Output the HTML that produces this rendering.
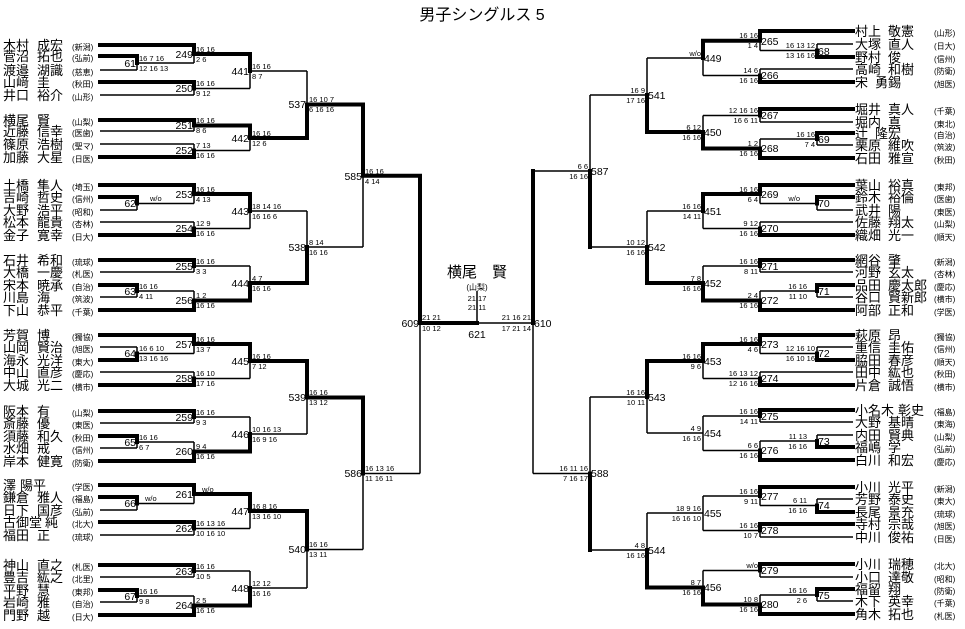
<!DOCTYPE html>
<html><head><meta charset="utf-8"><style>
html,body{margin:0;padding:0;background:#fff}
svg{display:block}
text{font-family:"Liberation Sans","Noto Sans CJK JP",sans-serif;fill:#000}
.nm{font-size:13px}
.sc{font-size:8px}
.s{font-size:7.5px}
.r{font-size:7.5px;text-anchor:end}
.l{font-size:10.5px;text-anchor:end}
.lr{font-size:10.5px}
</style></head><body>
<svg width="965" height="629" viewBox="0 0 965 629" xmlns="http://www.w3.org/2000/svg">
<text x="482" y="20" font-size="16" text-anchor="middle">男子シングルス 5</text>

<path fill="none" stroke="#000" stroke-width="1.5" d="
M100 45H194M100 56H137M100 70H137M100 82H194M100 95H194
M100 120H194M100 131H194M100 144H194M100 157H194
M100 185H194M100 197H137M100 210H137M100 222H194M100 235H194
M100 260H194M100 272H194M100 285H137M100 297H137M100 310H194
M100 335H194M100 347H137M100 360H137M100 372H194M100 385H194
M100 411H194M100 423H194M100 436H137M100 448H137M100 461H194
M100 485H194M100 497H137M100 510H137M100 522H194M100 535H194
M100 565H194M100 577H194M100 590H137M100 602H137M100 615H194
M137 56V70M137 63H194M137 197V210M137 203.5H194M137 285V297M137 291H194M137 347V360M137 353.5H194M137 436V448M137 442H194M137 497V510M137 503.5H194M137 590V602M137 596H194
M194 45V63M194 82V95M194 120V131M194 144V157M194 185V203.5M194 222V235M194 260V272M194 291V310M194 335V353.5M194 372V385M194 411V423M194 442V461M194 485V503.5M194 522V535M194 565V577M194 596V615
M194 54H250M194 88.5H250M194 125.5H250M194 150.5H250M194 194H250M194 228.5H250M194 266H250M194 300.5H250M194 344H250M194 378.5H250M194 417H250M194 451.5H250M194 494H250M194 528.5H250M194 571H250M194 605.5H250
M250 54V88.5M250 125.5V150.5M250 194V228.5M250 266V300.5M250 344V378.5M250 417V451.5M250 494V528.5M250 571V605.5
M250 71H307M250 138H307M250 211H307M250 283H307M250 361H307M250 434H307M250 511H307M250 588H307
M307 71V138M307 211V283M307 361V434M307 511V588
M307 104.5H363M307 247H363M307 397.5H363M307 549.5H363
M363 104.5V247M363 397.5V549.5M363 175.75H420M363 473.5H420M420 175.75V473.5M420 323H533M477 291V323
M853 31H760M853 44H817M853 57H817M853 69H760M853 82H760
M853 109H760M853 122H760M853 133H817M853 145H817M853 158H760
M853 185H760M853 197H817M853 210H817M853 222H760M853 235H760
M853 260H760M853 272H760M853 285H817M853 297H817M853 310H760
M853 335H760M853 347H817M853 360H817M853 372H760M853 385H760
M853 410H760M853 422H760M853 435H817M853 447H817M853 460H760
M853 487H760M853 499H817M853 512H817M853 524H760M853 537H760
M853 564H760M853 577H760M853 589H817M853 601H817M853 614H760
M817 44V57M817 50.5H760M817 133V145M817 139H760M817 197V210M817 203.5H760M817 285V297M817 291H760M817 347V360M817 353.5H760M817 435V447M817 441H760M817 499V512M817 505.5H760M817 589V601M817 595H760
M760 31V50.5M760 69V82M760 109V122M760 139V158M760 185V203.5M760 222V235M760 260V272M760 291V310M760 335V353.5M760 372V385M760 410V422M760 441V460M760 487V505.5M760 524V537M760 564V577M760 595V614
M760 40.75H703M760 75.5H703M760 115.5H703M760 148.5H703M760 194H703M760 228.5H703M760 266H703M760 300.5H703M760 344H703M760 378.5H703M760 416H703M760 450.5H703M760 496H703M760 530.5H703M760 570.5H703M760 604.5H703
M703 40.75V75.5M703 115.5V148.5M703 194V228.5M703 266V300.5M703 344V378.5M703 416V450.5M703 496V530.5M703 570.5V604.5
M703 58H647M703 132H647M703 211H647M703 283H647M703 361H647M703 433H647M703 513H647M703 587.5H647
M647 58V132M647 211V283M647 361V433M647 513V587.5
M647 95H590M647 247H590M647 397H590M647 550H590
M590 95V247M590 397V550M590 171H533M590 473.5H533M533 171V473.5"/>

<path fill="none" stroke="#000" stroke-width="4" stroke-linecap="square" d="
M100 45H194M100 56H137M137 56V63M194 45V54M100 82H194M194 82V88.5M194 54H250M250 54V71
M100 120H194M194 120V125.5M100 157H194M194 150.5V157M194 125.5H250M250 125.5V138M250 138H307M307 104.5V138M307 104.5H363M363 104.5V175.75M363 175.75H420M420 175.75V323M420 323H477
M100 185H194M100 197H137M137 197V203.5M194 185V194M100 235H194M194 228.5V235M194 194H250M250 194V211
M100 260H194M194 260V266M100 285H137M137 285V291M100 310H194M194 300.5V310M194 300.5H250M250 283V300.5M250 283H307M307 247V283
M100 335H194M100 360H137M137 353.5V360M194 335V344M100 385H194M194 378.5V385M194 344H250M250 344V361M250 361H307M307 361V397.5M307 397.5H363M363 397.5V473.5
M100 411H194M194 411V417M100 436H137M137 436V442M100 461H194M194 451.5V461M194 451.5H250M250 434V451.5
M100 485H194M100 497H137M137 497V503.5M194 485V494M100 522H194M194 522V528.5M194 494H250M250 494V511M250 511H307M307 511V549.5
M100 565H194M194 565V571M100 590H137M137 590V596M100 615H194M194 605.5V615M194 605.5H250M250 588V605.5
M853 31H760M853 57H817M817 50.5V57M760 31V40.75M853 82H760M760 75.5V82M760 40.75H703M703 40.75V58
M853 109H760M760 109V115.5M853 133H817M817 133V139M853 158H760M760 148.5V158M760 148.5H703M703 132V148.5M703 132H647M647 95V132
M853 185H760M853 197H817M817 197V203.5M760 185V194M853 235H760M760 228.5V235M760 194H703M703 194V211
M853 260H760M760 260V266M853 285H817M817 285V291M853 310H760M760 300.5V310M760 300.5H703M703 283V300.5M703 283H647M647 247V283M590 171V247M533 171V323
M853 335H760M853 360H817M817 353.5V360M760 335V344M853 385H760M760 378.5V385M760 344H703M703 344V361M703 361H647M647 361V397
M853 410H760M760 410V416M853 447H817M817 441V447M853 460H760M760 450.5V460
M853 487H760M853 512H817M817 505.5V512M760 487V496M853 524H760M760 524V530.5
M853 564H760M760 564V570.5M853 589H817M817 589V595M853 614H760M760 604.5V614M760 604.5H703M703 587.5V604.5M703 587.5H647M647 550V587.5M590 473.5V550"/>

<!-- left names -->
<g class="nm">
<text y="50"><tspan x="3">木村</tspan><tspan x="37">成宏</tspan><tspan x="72" class="sc">(新潟)</tspan></text>
<text y="61"><tspan x="3">菅沼</tspan><tspan x="37">拓也</tspan><tspan x="72" class="sc">(弘前)</tspan></text>
<text y="75"><tspan x="3">渡邉</tspan><tspan x="37">湖識</tspan><tspan x="72" class="sc">(慈恵)</tspan></text>
<text y="87"><tspan x="3">山﨑</tspan><tspan x="37">圭</tspan><tspan x="72" class="sc">(秋田)</tspan></text>
<text y="100"><tspan x="3">井口</tspan><tspan x="37">裕介</tspan><tspan x="72" class="sc">(山形)</tspan></text>
<text y="125"><tspan x="3">横尾</tspan><tspan x="37">賢</tspan><tspan x="72" class="sc">(山梨)</tspan></text>
<text y="136"><tspan x="3">近藤</tspan><tspan x="37">信幸</tspan><tspan x="72" class="sc">(医歯)</tspan></text>
<text y="149"><tspan x="3">篠原</tspan><tspan x="37">浩樹</tspan><tspan x="72" class="sc">(聖マ)</tspan></text>
<text y="162"><tspan x="3">加藤</tspan><tspan x="37">大星</tspan><tspan x="72" class="sc">(日医)</tspan></text>
<text y="190"><tspan x="3">土橋</tspan><tspan x="37">隼人</tspan><tspan x="72" class="sc">(埼玉)</tspan></text>
<text y="202"><tspan x="3">吉崎</tspan><tspan x="37">哲史</tspan><tspan x="72" class="sc">(信州)</tspan></text>
<text y="215"><tspan x="3">大野</tspan><tspan x="37">浩平</tspan><tspan x="72" class="sc">(昭和)</tspan></text>
<text y="227"><tspan x="3">松本</tspan><tspan x="37">龍貴</tspan><tspan x="72" class="sc">(杏林)</tspan></text>
<text y="240"><tspan x="3">金子</tspan><tspan x="37">寛幸</tspan><tspan x="72" class="sc">(日大)</tspan></text>
<text y="265"><tspan x="3">石井</tspan><tspan x="37">希和</tspan><tspan x="72" class="sc">(琉球)</tspan></text>
<text y="277"><tspan x="3">大橋</tspan><tspan x="37">一慶</tspan><tspan x="72" class="sc">(札医)</tspan></text>
<text y="290"><tspan x="3">宋本</tspan><tspan x="37">暁承</tspan><tspan x="72" class="sc">(自治)</tspan></text>
<text y="302"><tspan x="3">川島</tspan><tspan x="37">海</tspan><tspan x="72" class="sc">(筑波)</tspan></text>
<text y="315"><tspan x="3">下山</tspan><tspan x="37">恭平</tspan><tspan x="72" class="sc">(千葉)</tspan></text>
<text y="340"><tspan x="3">芳賀</tspan><tspan x="37">博</tspan><tspan x="72" class="sc">(獨協)</tspan></text>
<text y="352"><tspan x="3">山岡</tspan><tspan x="37">賢治</tspan><tspan x="72" class="sc">(旭医)</tspan></text>
<text y="365"><tspan x="3">海永</tspan><tspan x="37">光洋</tspan><tspan x="72" class="sc">(東大)</tspan></text>
<text y="377"><tspan x="3">中山</tspan><tspan x="37">直彦</tspan><tspan x="72" class="sc">(慶応)</tspan></text>
<text y="390"><tspan x="3">大城</tspan><tspan x="37">光二</tspan><tspan x="72" class="sc">(横市)</tspan></text>
<text y="416"><tspan x="3">阪本</tspan><tspan x="37">有</tspan><tspan x="72" class="sc">(山梨)</tspan></text>
<text y="428"><tspan x="3">斎藤</tspan><tspan x="37">優</tspan><tspan x="72" class="sc">(東医)</tspan></text>
<text y="441"><tspan x="3">須藤</tspan><tspan x="37">和久</tspan><tspan x="72" class="sc">(秋田)</tspan></text>
<text y="453"><tspan x="3">水畑</tspan><tspan x="37">戒</tspan><tspan x="72" class="sc">(信州)</tspan></text>
<text y="466"><tspan x="3">岸本</tspan><tspan x="37">健寛</tspan><tspan x="72" class="sc">(防衛)</tspan></text>
<text y="490"><tspan x="3">澤</tspan><tspan x="20">陽平</tspan><tspan x="72" class="sc">(学医)</tspan></text>
<text y="502"><tspan x="3">鎌倉</tspan><tspan x="37">雅人</tspan><tspan x="72" class="sc">(福島)</tspan></text>
<text y="515"><tspan x="3">日下</tspan><tspan x="37">国彦</tspan><tspan x="72" class="sc">(弘前)</tspan></text>
<text y="527"><tspan x="3">古御堂</tspan><tspan x="45">純</tspan><tspan x="72" class="sc">(北大)</tspan></text>
<text y="540"><tspan x="3">福田</tspan><tspan x="37">正</tspan><tspan x="72" class="sc">(琉球)</tspan></text>
<text y="570"><tspan x="3">神山</tspan><tspan x="37">直之</tspan><tspan x="72" class="sc">(札医)</tspan></text>
<text y="582"><tspan x="3">豊吉</tspan><tspan x="37">紘之</tspan><tspan x="72" class="sc">(北里)</tspan></text>
<text y="595"><tspan x="3">平野</tspan><tspan x="37">慧</tspan><tspan x="72" class="sc">(東邦)</tspan></text>
<text y="607"><tspan x="3">岩崎</tspan><tspan x="37">雅</tspan><tspan x="72" class="sc">(自治)</tspan></text>
<text y="620"><tspan x="3">門野</tspan><tspan x="37">越</tspan><tspan x="72" class="sc">(日大)</tspan></text>
</g>

<!-- right names -->
<g class="nm">
<text y="36"><tspan x="855">村上</tspan><tspan x="888">敬憲</tspan><tspan x="934" class="sc">(山形)</tspan></text>
<text y="49"><tspan x="855">大塚</tspan><tspan x="888">直人</tspan><tspan x="934" class="sc">(日大)</tspan></text>
<text y="62"><tspan x="855">野村</tspan><tspan x="888">俊</tspan><tspan x="934" class="sc">(信州)</tspan></text>
<text y="74"><tspan x="855">高崎</tspan><tspan x="888">和樹</tspan><tspan x="934" class="sc">(防衛)</tspan></text>
<text y="87"><tspan x="855">宋</tspan><tspan x="875">勇錫</tspan><tspan x="934" class="sc">(旭医)</tspan></text>
<text y="114"><tspan x="855">堀井</tspan><tspan x="888">真人</tspan><tspan x="934" class="sc">(千葉)</tspan></text>
<text y="127"><tspan x="855">堀内</tspan><tspan x="888">真</tspan><tspan x="934" class="sc">(東北)</tspan></text>
<text y="138"><tspan x="855">辻</tspan><tspan x="875">隆宏</tspan><tspan x="934" class="sc">(自治)</tspan></text>
<text y="150"><tspan x="855">栗原</tspan><tspan x="888">維吹</tspan><tspan x="934" class="sc">(筑波)</tspan></text>
<text y="163"><tspan x="855">石田</tspan><tspan x="888">雅宣</tspan><tspan x="934" class="sc">(秋田)</tspan></text>
<text y="190"><tspan x="855">葉山</tspan><tspan x="888">裕真</tspan><tspan x="934" class="sc">(東邦)</tspan></text>
<text y="202"><tspan x="855">鈴木</tspan><tspan x="888">裕倫</tspan><tspan x="934" class="sc">(医歯)</tspan></text>
<text y="215"><tspan x="855">武井</tspan><tspan x="888">陽</tspan><tspan x="934" class="sc">(東医)</tspan></text>
<text y="227"><tspan x="855">佐藤</tspan><tspan x="888">翔太</tspan><tspan x="934" class="sc">(山梨)</tspan></text>
<text y="240"><tspan x="855">織畑</tspan><tspan x="888">光一</tspan><tspan x="934" class="sc">(順天)</tspan></text>
<text y="265"><tspan x="855">網谷</tspan><tspan x="888">肇</tspan><tspan x="934" class="sc">(新潟)</tspan></text>
<text y="277"><tspan x="855">河野</tspan><tspan x="888">玄太</tspan><tspan x="934" class="sc">(杏林)</tspan></text>
<text y="290"><tspan x="855">品田</tspan><tspan x="888">慶太郎</tspan><tspan x="934" class="sc">(慶応)</tspan></text>
<text y="302"><tspan x="855">谷口</tspan><tspan x="888">賢新郎</tspan><tspan x="934" class="sc">(横市)</tspan></text>
<text y="315"><tspan x="855">阿部</tspan><tspan x="888">正和</tspan><tspan x="934" class="sc">(学医)</tspan></text>
<text y="340"><tspan x="855">萩原</tspan><tspan x="888">昂</tspan><tspan x="934" class="sc">(獨協)</tspan></text>
<text y="352"><tspan x="855">重信</tspan><tspan x="888">圭佑</tspan><tspan x="934" class="sc">(信州)</tspan></text>
<text y="365"><tspan x="855">脇田</tspan><tspan x="888">春彦</tspan><tspan x="934" class="sc">(順天)</tspan></text>
<text y="377"><tspan x="855">田中</tspan><tspan x="888">紘也</tspan><tspan x="934" class="sc">(秋田)</tspan></text>
<text y="390"><tspan x="855">片倉</tspan><tspan x="888">誠悟</tspan><tspan x="934" class="sc">(横市)</tspan></text>
<text y="415"><tspan x="855">小名木</tspan><tspan x="898">彰史</tspan><tspan x="934" class="sc">(福島)</tspan></text>
<text y="427"><tspan x="855">大野</tspan><tspan x="888">基晴</tspan><tspan x="934" class="sc">(東海)</tspan></text>
<text y="440"><tspan x="855">内田</tspan><tspan x="888">賢典</tspan><tspan x="934" class="sc">(山梨)</tspan></text>
<text y="452"><tspan x="855">福嶋</tspan><tspan x="888">学</tspan><tspan x="934" class="sc">(弘前)</tspan></text>
<text y="465"><tspan x="855">白川</tspan><tspan x="888">和宏</tspan><tspan x="934" class="sc">(慶応)</tspan></text>
<text y="492"><tspan x="855">小川</tspan><tspan x="888">光平</tspan><tspan x="934" class="sc">(新潟)</tspan></text>
<text y="504"><tspan x="855">芳野</tspan><tspan x="888">泰史</tspan><tspan x="934" class="sc">(東大)</tspan></text>
<text y="517"><tspan x="855">長尾</tspan><tspan x="888">景充</tspan><tspan x="934" class="sc">(琉球)</tspan></text>
<text y="529"><tspan x="855">寺村</tspan><tspan x="888">宗哉</tspan><tspan x="934" class="sc">(旭医)</tspan></text>
<text y="542"><tspan x="855">中川</tspan><tspan x="888">俊祐</tspan><tspan x="934" class="sc">(日医)</tspan></text>
<text y="569"><tspan x="855">小川</tspan><tspan x="888">瑞穂</tspan><tspan x="934" class="sc">(北大)</tspan></text>
<text y="582"><tspan x="855">小口</tspan><tspan x="888">達敬</tspan><tspan x="934" class="sc">(昭和)</tspan></text>
<text y="594"><tspan x="855">福留</tspan><tspan x="888">翔</tspan><tspan x="934" class="sc">(防衛)</tspan></text>
<text y="606"><tspan x="855">木下</tspan><tspan x="888">英幸</tspan><tspan x="934" class="sc">(千葉)</tspan></text>
<text y="619"><tspan x="855">角木</tspan><tspan x="888">拓也</tspan><tspan x="934" class="sc">(札医)</tspan></text>
</g>

<!-- champion -->
<text x="477" y="277" font-size="15" text-anchor="middle">横尾　賢</text>
<text x="477" y="290" font-size="8" text-anchor="middle">(山梨)</text>
<text x="477" y="301" font-size="7.5" text-anchor="middle">21 17</text>
<text x="477" y="310" font-size="7.5" text-anchor="middle">21 11</text>
<text x="477" y="338" font-size="10.5" text-anchor="middle">621</text>

<!-- left match labels -->
<g class="l">
<text x="136" y="67">61</text><text x="193" y="58">249</text><text x="193" y="92">250</text><text x="249" y="75">441</text>
<text x="193" y="129">251</text><text x="193" y="154">252</text><text x="249" y="142">442</text><text x="306" y="108">537</text>
<text x="136" y="207">62</text><text x="193" y="198">253</text><text x="193" y="232">254</text><text x="249" y="215">443</text>
<text x="193" y="270">255</text><text x="136" y="295">63</text><text x="193" y="304">256</text><text x="249" y="287">444</text>
<text x="306" y="251">538</text><text x="362" y="180">585</text>
<text x="136" y="357">64</text><text x="193" y="348">257</text><text x="193" y="382">258</text><text x="249" y="365">445</text>
<text x="193" y="421">259</text><text x="136" y="446">65</text><text x="193" y="455">260</text><text x="249" y="438">446</text><text x="306" y="401">539</text>
<text x="136" y="507">66</text><text x="193" y="498">261</text><text x="193" y="532">262</text><text x="249" y="515">447</text>
<text x="193" y="575">263</text><text x="136" y="600">67</text><text x="193" y="609">264</text><text x="249" y="592">448</text>
<text x="306" y="553">540</text><text x="362" y="477">586</text><text x="419" y="327">609</text>
</g>
<!-- right match labels -->
<g class="lr">
<text x="818" y="55">68</text><text x="761" y="45">265</text><text x="761" y="79">266</text><text x="704" y="62">449</text>
<text x="761" y="119">267</text><text x="818" y="143">69</text><text x="761" y="152">268</text><text x="704" y="136">450</text><text x="648" y="99">541</text>
<text x="818" y="207">70</text><text x="761" y="198">269</text><text x="761" y="232">270</text><text x="704" y="215">451</text>
<text x="761" y="270">271</text><text x="818" y="295">71</text><text x="761" y="304">272</text><text x="704" y="287">452</text>
<text x="648" y="251">542</text><text x="591" y="175">587</text>
<text x="818" y="357">72</text><text x="761" y="348">273</text><text x="761" y="382">274</text><text x="704" y="365">453</text>
<text x="761" y="420">275</text><text x="818" y="445">73</text><text x="761" y="454">276</text><text x="704" y="437">454</text><text x="648" y="401">543</text>
<text x="818" y="509">74</text><text x="761" y="500">277</text><text x="761" y="534">278</text><text x="704" y="517">455</text>
<text x="761" y="574">279</text><text x="818" y="599">75</text><text x="761" y="608">280</text><text x="704" y="591">456</text>
<text x="648" y="554">544</text><text x="591" y="477">588</text><text x="534" y="327">610</text>
</g>

<!-- left scores -->
<g class="s">
<text x="139" y="61">16 7 16<tspan x="139" dy="10">12 16 13</tspan></text>
<text x="196" y="52">16 16<tspan x="196" dy="10">2 6</tspan></text>
<text x="196" y="86">16 16<tspan x="196" dy="10">9 12</tspan></text>
<text x="252" y="69">16 16<tspan x="252" dy="10">8 7</tspan></text>
<text x="196" y="123">16 16<tspan x="196" dy="10">8 6</tspan></text>
<text x="196" y="148">7 13<tspan x="196" dy="10">16 16</tspan></text>
<text x="252" y="136">16 16<tspan x="252" dy="10">12 6</tspan></text>
<text x="309" y="102">16 10 7<tspan x="309" dy="10">6 16 16</tspan></text>
<text x="150" y="201">w/o</text>
<text x="196" y="192">16 16<tspan x="196" dy="10">4 13</tspan></text>
<text x="196" y="226">12 9<tspan x="196" dy="10">16 16</tspan></text>
<text x="252" y="209">18 14 16<tspan x="252" dy="10">16 16 6</tspan></text>
<text x="196" y="264">16 16<tspan x="196" dy="10">3 3</tspan></text>
<text x="139" y="289">16 16<tspan x="139" dy="10">4 11</tspan></text>
<text x="196" y="298">1 2<tspan x="196" dy="10">16 16</tspan></text>
<text x="252" y="281">4 7<tspan x="252" dy="10">16 16</tspan></text>
<text x="309" y="245">8 14<tspan x="309" dy="10">16 16</tspan></text>
<text x="365" y="174">16 16<tspan x="365" dy="10">4 14</tspan></text>
<text x="139" y="351">16 6 10<tspan x="139" dy="10">13 16 16</tspan></text>
<text x="196" y="342">16 16<tspan x="196" dy="10">13 7</tspan></text>
<text x="196" y="376">16 10<tspan x="196" dy="10">17 16</tspan></text>
<text x="252" y="359">16 16<tspan x="252" dy="10">7 12</tspan></text>
<text x="196" y="415">16 16<tspan x="196" dy="10">9 3</tspan></text>
<text x="139" y="440">16 16<tspan x="139" dy="10">6 7</tspan></text>
<text x="196" y="449">9 4<tspan x="196" dy="10">16 16</tspan></text>
<text x="252" y="432">10 16 13<tspan x="252" dy="10">16 9 16</tspan></text>
<text x="309" y="395">16 16<tspan x="309" dy="10">13 12</tspan></text>
<text x="145" y="501">w/o</text>
<text x="202" y="492">w/o</text>
<text x="196" y="526">16 13 16<tspan x="196" dy="10">10 16 10</tspan></text>
<text x="252" y="509">16 8 16<tspan x="252" dy="10">13 16 10</tspan></text>
<text x="196" y="569">16 16<tspan x="196" dy="10">10 5</tspan></text>
<text x="139" y="594">16 16<tspan x="139" dy="10">9 8</tspan></text>
<text x="196" y="603">2 5<tspan x="196" dy="10">16 16</tspan></text>
<text x="252" y="586">12 12<tspan x="252" dy="10">16 16</tspan></text>
<text x="309" y="547">16 16<tspan x="309" dy="10">13 11</tspan></text>
<text x="365" y="471">16 13 16<tspan x="365" dy="10">11 16 11</tspan></text>
<text x="422" y="320">21 21<tspan x="422" dy="11">10 12</tspan></text>
</g>
<!-- right scores -->
<g class="r">
<text x="531" y="320">21 16 21<tspan x="531" dy="11">17 21 14</tspan></text>
<text x="815" y="48">16 13 12<tspan x="815" dy="10">13 16 16</tspan></text>
<text x="758" y="38">16 16<tspan x="758" dy="10">1 4</tspan></text>
<text x="758" y="73">14 6<tspan x="758" dy="10">16 16</tspan></text>
<text x="701" y="56">w/o</text>
<text x="758" y="113">12 16 16<tspan x="758" dy="10">16 6 11</tspan></text>
<text x="815" y="137">16 16<tspan x="815" dy="10">7 4</tspan></text>
<text x="758" y="146">1 2<tspan x="758" dy="10">16 16</tspan></text>
<text x="701" y="130">6 12<tspan x="701" dy="10">16 16</tspan></text>
<text x="645" y="93">16 9<tspan x="645" dy="10">17 16</tspan></text>
<text x="588" y="169">6 6<tspan x="588" dy="10">16 16</tspan></text>
<text x="800" y="201">w/o</text>
<text x="758" y="192">16 16<tspan x="758" dy="10">6 4</tspan></text>
<text x="758" y="226">9 12<tspan x="758" dy="10">16 16</tspan></text>
<text x="701" y="209">16 16<tspan x="701" dy="10">14 11</tspan></text>
<text x="758" y="264">16 16<tspan x="758" dy="10">8 11</tspan></text>
<text x="807" y="289">16 16<tspan x="807" dy="10">11 10</tspan></text>
<text x="758" y="298">2 4<tspan x="758" dy="10">16 16</tspan></text>
<text x="701" y="281">7 8<tspan x="701" dy="10">16 16</tspan></text>
<text x="645" y="245">10 12<tspan x="645" dy="10">16 16</tspan></text>
<text x="815" y="351">12 16 10<tspan x="815" dy="10">16 10 16</tspan></text>
<text x="758" y="342">16 16<tspan x="758" dy="10">4 6</tspan></text>
<text x="758" y="376">16 13 12<tspan x="758" dy="10">12 16 16</tspan></text>
<text x="701" y="359">16 16<tspan x="701" dy="10">9 6</tspan></text>
<text x="758" y="414">16 16<tspan x="758" dy="10">14 11</tspan></text>
<text x="807" y="439">11 13<tspan x="807" dy="10">16 16</tspan></text>
<text x="758" y="448">6 6<tspan x="758" dy="10">16 16</tspan></text>
<text x="701" y="431">4 9<tspan x="701" dy="10">16 16</tspan></text>
<text x="645" y="395">16 16<tspan x="645" dy="10">10 11</tspan></text>
<text x="588" y="471">16 11 16<tspan x="588" dy="10">7 16 17</tspan></text>
<text x="807" y="503">6 11<tspan x="807" dy="10">16 16</tspan></text>
<text x="758" y="494">16 16<tspan x="758" dy="10">9 11</tspan></text>
<text x="758" y="528">16 16<tspan x="758" dy="10">10 7</tspan></text>
<text x="701" y="511">18 9 16<tspan x="701" dy="10">16 16 10</tspan></text>
<text x="758" y="568">w/o</text>
<text x="807" y="593">16 16<tspan x="807" dy="10">2 6</tspan></text>
<text x="758" y="602">10 8<tspan x="758" dy="10">16 16</tspan></text>
<text x="701" y="585">8 7<tspan x="701" dy="10">16 16</tspan></text>
<text x="645" y="548">4 8<tspan x="645" dy="10">16 16</tspan></text>
</g>
</svg>
</body></html>
